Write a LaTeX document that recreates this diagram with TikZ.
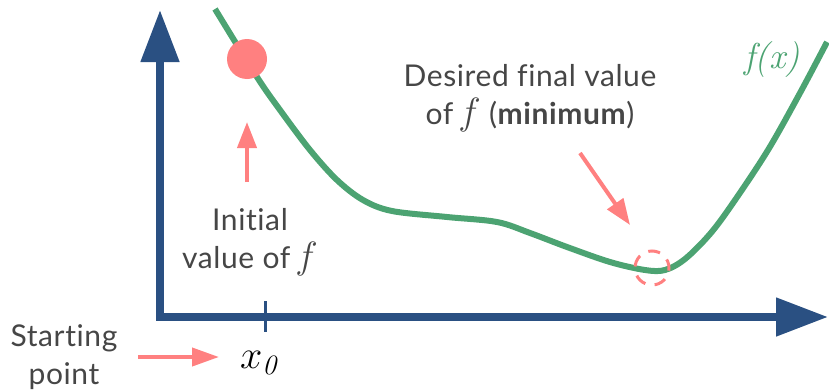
\RequirePackage{fix-cm}
\documentclass[tikz,border=0pt]{standalone}
\usepackage[no-math]{fontspec}
\setmainfont{Lato}[Ligatures=NoCommon, LetterSpace=2]
\newfontfamily\lmfont{Latin Modern Roman}
\usetikzlibrary{arrows.meta}
\definecolor{axisblue}{RGB}{42,80,130}
\definecolor{curvegreen}{RGB}{76,163,114}
\definecolor{salmon}{RGB}{255,128,128}
\definecolor{textgray}{RGB}{70,70,70}
\newcommand\myf{{\fontsize{38}{38}\selectfont$f$}}
\tikzset{
  axisline/.style={line width=8pt, draw=axisblue, miter limit=10, line join=miter},
  pointer/.style={line width=4pt, draw=salmon, -{Triangle[length=26pt,width=19pt]}},
  label/.style={font=\fontsize{30}{38}\selectfont, text=textgray, align=center, inner sep=0pt},
}
\begin{document}
\begin{tikzpicture}[x=1pt,y=-1pt]
\useasboundingbox (0,0) rectangle (829,391);
% axes
\coordinate (ytip) at (160,10);
\coordinate (origin) at (160,317);
\coordinate (xtip) at (828,317);
\draw[axisline, {Triangle[length=52pt,width=37pt]}-{Triangle[length=52pt,width=37pt]}]
  (ytip) -- (origin) -- (xtip);
% tick
\coordinate (ticktop) at (265,301);
\coordinate (tickbot) at (265,332);
\draw[line width=3pt, axisblue] (ticktop) -- (tickbot);
\node[anchor=base west, inner sep=0pt, font=\fontsize{40}{44}\selectfont] (xzero) at (240,368) {$x_{\mathit{0}}$};
% curve
\draw[line width=6pt, curvegreen] plot[smooth, tension=0.55] coordinates {
  (215,9) (257,77) (280,110) (310,150) (337,180) (363,200) (392,211) (447,217) (497,222)
  (530,233) (567,247) (610,262) (645,270) (665,270) (685,259) (710,234) (733,203) (768,150) (800,93) (827,42)};
\node[anchor=base, inner sep=0pt, text=curvegreen, font=\fontsize{36}{40}\selectfont\lmfont\itshape] (flabel) at (772,68) {f(x)};
% initial dot
\node[circle, fill=salmon, minimum size=40pt, inner sep=0pt] (dot) at (247,59) {};
% min marker
\node[circle, draw=salmon, line width=3pt, minimum size=34pt, inner sep=0pt,
  dash pattern=on 12pt off 9.4pt, dash phase=3pt] (minmark) at (652,268) {};
% labels
\node[label, anchor=base] (initial) at (250,268) {Initial\\value of\,\myf};
\node[label, anchor=base] (desired) at (530,124) {Desired final value\\of\,\myf\ (\textbf{minimum})};
\node[label, anchor=base] (starting) at (64,384) {Starting\\point};
% pointers
\coordinate (upfrom) at (247,182);
\coordinate (upto) at (247,122);
\draw[pointer] (upfrom) -- (upto);
\coordinate (minfrom) at (580,153);
\coordinate (minto) at (630,225);
\draw[pointer] (minfrom) -- (minto);
\coordinate (startfrom) at (138,357);
\coordinate (startto) at (219,357);
\draw[pointer, -{Triangle[length=27pt,width=18pt]}] (startfrom) -- (startto);
\end{tikzpicture}
\end{document}
